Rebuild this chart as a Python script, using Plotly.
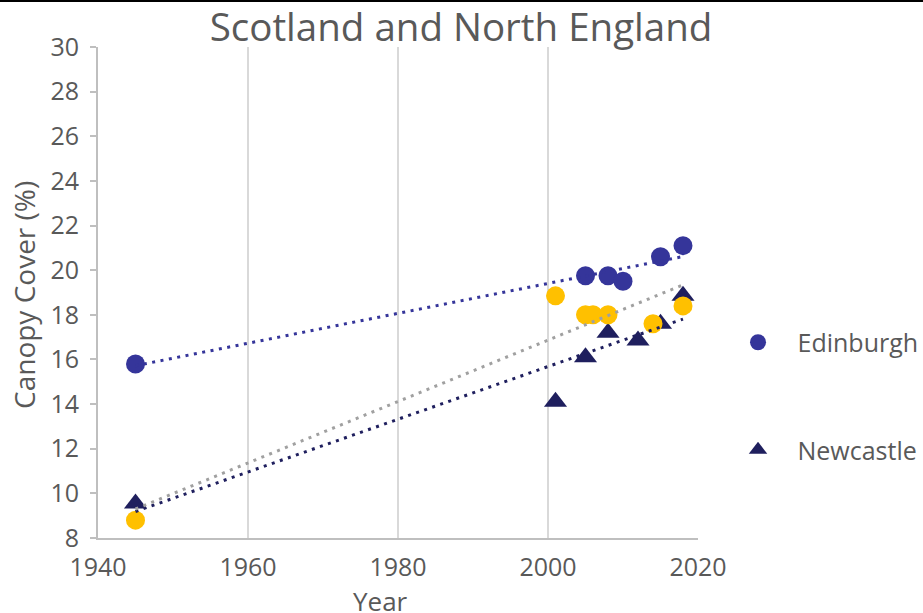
import numpy as np
import plotly.graph_objects as go

# Canopy cover surveys (year, % cover)
edinburgh_years = [1945, 2005, 2008, 2010, 2015, 2018]
edinburgh_cover = [15.8, 19.75, 19.75, 19.5, 20.6, 21.1]

newcastle_years = [1945, 2001, 2005, 2008, 2012, 2015, 2018]
newcastle_cover = [9.55, 14.1, 16.1, 17.2, 16.85, 17.6, 18.85]

other_years = [1945, 2001, 2005, 2006, 2008, 2014, 2018]
other_cover = [8.8, 18.85, 18.0, 18.0, 18.0, 17.6, 18.4]

x_ticks = [1940, 1960, 1980, 2000, 2020]
y_ticks = list(range(8, 31, 2))

BLUE = "#35359a"
NAVY = "#1f1f5e"
GOLD = "#ffc000"
GREY = "#a0a0a0"
TEXT = "#595959"
FONT = "Open Sans"
PAD = "\u00a0" * 3  # extra room between legend symbol and label


def trend(xs, ys):
    slope, intercept = np.polyfit(xs, ys, 1)
    xe = np.array([min(xs), max(xs)], dtype=float)
    return xe, slope * xe + intercept


fig = go.Figure()

fig.add_trace(go.Scatter(
    x=edinburgh_years, y=edinburgh_cover, mode="markers", name=PAD + "Edinburgh",
    legendgroup="edi",
    marker=dict(symbol="circle", size=19, color=BLUE),
))
fig.add_trace(go.Scatter(
    x=newcastle_years, y=newcastle_cover, mode="markers", name=PAD + "Newcastle",
    legendgroup="new",
    marker=dict(symbol="triangle-up", size=20, color=NAVY),
))
fig.add_trace(go.Scatter(
    x=other_years, y=other_cover, mode="markers", name="Other",
    showlegend=False,
    marker=dict(symbol="circle", size=19, color=GOLD),
))

for xs, ys, col in [(edinburgh_years, edinburgh_cover, BLUE),
                    (newcastle_years, newcastle_cover, NAVY),
                    (other_years, other_cover, GREY)]:
    tx, ty = trend(xs, ys)
    fig.add_trace(go.Scatter(
        x=tx, y=ty, mode="lines", showlegend=False, hoverinfo="skip",
        line=dict(color=col, width=3, dash="3px,5.5px"),
    ))

fig.update_layout(
    width=923, height=613,
    margin=dict(l=98, r=225, t=47, b=75, autoexpand=False),
    paper_bgcolor="white", plot_bgcolor="white",
    font=dict(family=FONT, color=TEXT, size=22),
    title=dict(text="Scotland and North England", x=0.4995, xref="container",
               xanchor="center", y=0.955, yref="container", yanchor="middle",
               font=dict(size=38.5, color=TEXT, family=FONT)),
    showlegend=True,
    legend=dict(x=1.0667, xanchor="left", y=0.445, yanchor="top",
                font=dict(size=25, color=TEXT), tracegroupgap=72,
                bgcolor="rgba(0,0,0,0)"),
    xaxis=dict(range=[1940, 2020], tickvals=x_ticks, ticktext=[str(v) for v in x_ticks],
               showgrid=True, gridcolor="#d9d9d9", gridwidth=2,
               showline=True, linecolor="#bfbfbf", linewidth=2,
               ticks="", zeroline=False, tickfont=dict(size=25, color=TEXT),
               ticklabelstandoff=6),
    yaxis=dict(range=[8, 30], tickvals=y_ticks, ticktext=[str(v) for v in y_ticks],
               showgrid=False, showline=True, linecolor="#bfbfbf", linewidth=2,
               ticks="outside", ticklen=6, tickcolor="#bfbfbf", tickwidth=2,
               zeroline=False, tickfont=dict(size=25, color=TEXT),
               ticklabelstandoff=6),
    annotations=[
        dict(text="Year", xref="paper", yref="paper", x=0.47, y=-0.087,
             xanchor="center", yanchor="top", showarrow=False,
             font=dict(size=26, color=TEXT)),
        dict(text="Canopy Cover (%)", xref="paper", yref="paper", x=-0.1233, y=0.495,
             xanchor="center", yanchor="middle", textangle=-90, showarrow=False,
             font=dict(size=28, color=TEXT)),
    ],
    shapes=[dict(type="line", xref="paper", yref="paper", x0=-0.17, x1=1.38,
                 y0=1.0937, y1=1.0937, line=dict(color="black", width=2))],
)

fig.write_html("out.html")
